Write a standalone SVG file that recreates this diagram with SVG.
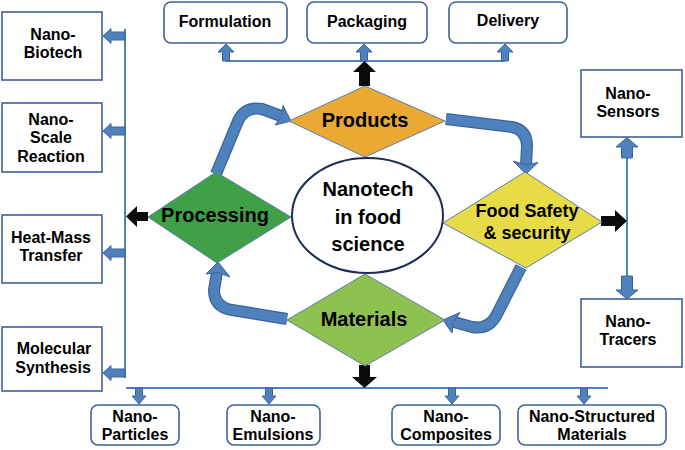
<svg xmlns="http://www.w3.org/2000/svg" width="685" height="450" viewBox="0 0 685 450">
<defs>
<style>
.box{fill:#fff;stroke:#3F619A;stroke-width:1.6}
.t{font-family:"Liberation Sans",Arial,sans-serif;font-weight:bold;font-size:16px;fill:#000;text-anchor:middle}
.big{font-size:20px}
.fs{font-size:18px}
.ln{fill:none;stroke:#4F81BD;stroke-width:2}
.sa{fill:#4F81BD;stroke:#3A659C;stroke-width:1}
.ba{fill:#0B0B0B}
.cs{fill:none;stroke:#3A659C;stroke-width:12;stroke-linejoin:round}
.ci{fill:none;stroke:#4F81BD;stroke-width:9.5;stroke-linejoin:round}
.dm{stroke:#5B7DB1;stroke-width:1}
</style>
</defs>
<rect width="685" height="450" fill="#fff"/>
<g id="connectors">
<!-- left bus -->
<line class="ln" x1="125" y1="29" x2="125" y2="378"/>
<polygon class="sa" points="125,32 111,32 111,28.5 103,36 111,43.5 111,40 125,40"/>
<polygon class="sa" points="125,127 111,127 111,123.5 103,131 111,138.5 111,135 125,135"/>
<polygon class="sa" points="125,249 111,249 111,245.5 103,253 111,260.5 111,257 125,257"/>
<polygon class="sa" points="125,369 111,369 111,365.5 103,373 111,380.5 111,377 125,377"/>
<polygon class="ba" points="148,212 137,212 137,206 126,216.5 137,227 137,221 148,221"/>
<!-- top bus -->
<line class="ln" x1="226" y1="61" x2="505" y2="61"/>
<polygon class="sa" points="222.5,61 222.5,52 218,52 226,44 234,52 229.5,52 229.5,61"/>
<polygon class="sa" points="360.5,61 360.5,52 356,52 364,44 372,52 367.5,52 367.5,61"/>
<polygon class="sa" points="501.5,61 501.5,52 497,52 505,44 513,52 508.5,52 508.5,61"/>
<polygon class="ba" points="359,86 359,72 353,72 364.5,61 376,72 370,72 370,86"/>
<!-- right bus -->
<line class="ln" x1="627" y1="147" x2="627" y2="290"/>
<polygon class="sa" points="621.5,158 621.5,147 616,147 627,137.5 638,147 632.5,147 632.5,158"/>
<polygon class="sa" points="621.5,276 621.5,290 616,290 627,299 638,290 632.5,290 632.5,276"/>
<polygon class="ba" points="601,216 615,216 615,210 627,221 615,232 615,226 601,226"/>
<!-- bottom bus -->
<line class="ln" x1="126" y1="388" x2="608" y2="388"/>
<polygon class="sa" points="135.5,388 135.5,396 132,396 139,404 146,396 142.5,396 142.5,388"/>
<polygon class="sa" points="265.5,388 265.5,396 262,396 269,404 276,396 272.5,396 272.5,388"/>
<polygon class="sa" points="448.5,388 448.5,396 445,396 452,404 459,396 455.5,396 455.5,388"/>
<polygon class="sa" points="580.5,388 580.5,396 577,396 584,404 591,396 587.5,396 587.5,388"/>
<polygon class="ba" points="359,365 359,377 352,377 364.5,388 377,377 370,377 370,365"/>
<!-- cycle arrows -->
<path class="cs" d="M216,174 L238,121 Q245,106 262,109 L281,116"/>
<path class="ci" d="M216,174 L238,121 Q245,106 262,109 L281,116"/>
<polygon class="sa" points="291,121 275,125 281.5,116.5 283,105.5"/>
<path class="cs" d="M446,119 L512,127 Q527,130 527,146 L526,165"/>
<path class="ci" d="M446,119 L512,127 Q527,130 527,146 L526,165"/>
<polygon class="sa" points="526,174 513,161 526,165 538,162.5"/>
<path class="cs" d="M521,267 L496,316 Q488,330 472,327 L454,322"/>
<path class="ci" d="M521,267 L496,316 Q488,330 472,327 L454,322"/>
<polygon class="sa" points="443,320 460,312.5 453.5,322.5 452,333"/>
<path class="cs" d="M287,319 L232,310 Q214,307 214,290 L217,272"/>
<path class="ci" d="M287,319 L232,310 Q214,307 214,290 L217,272"/>
<polygon class="sa" points="218,262 230,277 218,272.5 206,274"/>
</g>
<g id="products"><polygon class="dm" fill="#E9A932" points="365,86 445,121 365,157 289,121"/><text class="t big" x="365" y="127">Products</text></g>
<g id="processing"><polygon class="dm" fill="#40A047" points="216,172 291,217 217,263 148,217"/><text class="t big" x="215" y="222">Processing</text></g>
<g id="materials"><polygon class="dm" fill="#8FC150" points="365,274 445,320 365,366 287,320"/><text class="t big" x="364" y="326">Materials</text></g>
<g id="foodsafety"><polygon class="dm" fill="#E7DB47" points="525,172 602,222 526,268 443,223"/><text class="t fs" x="527" y="217">Food Safety</text><text class="t fs" x="527" y="239">&amp; security</text></g>
<g id="center"><ellipse cx="367.5" cy="215.5" rx="75.5" ry="57.5" fill="#fff" stroke="#1E2B5C" stroke-width="2"/><text class="t big" x="368" y="196">Nanotech</text><text class="t big" x="368" y="224">in food</text><text class="t big" x="368" y="251">science</text></g>
<g id="formulation"><rect class="box" x="164" y="2" width="123" height="41" rx="7"/><text class="t" x="225" y="27">Formulation</text></g>
<g id="packaging"><rect class="box" x="307" y="2" width="120" height="41" rx="7"/><text class="t" x="367" y="27">Packaging</text></g>
<g id="delivery"><rect class="box" x="449" y="2" width="118" height="41" rx="7"/><text class="t" x="508" y="26">Delivery</text></g>
<g id="nano-biotech"><rect class="box" x="2" y="12" width="100" height="68"/><text class="t" x="53" y="40">Nano-</text><text class="t" x="53" y="58">Biotech</text></g>
<g id="nano-scale"><rect class="box" x="2" y="103" width="100" height="69"/><text class="t" x="51" y="125">Nano-</text><text class="t" x="51" y="143">Scale</text><text class="t" x="51" y="162">Reaction</text></g>
<g id="heat-mass"><rect class="box" x="2" y="215" width="100" height="68"/><text class="t" x="51" y="243">Heat-Mass</text><text class="t" x="51" y="261">Transfer</text></g>
<g id="molecular"><rect class="box" x="2" y="327" width="100" height="64"/><text class="t" x="54" y="354">Molecular</text><text class="t" x="53" y="373">Synthesis</text></g>
<g id="nano-sensors"><rect class="box" x="581" y="70" width="101" height="67"/><text class="t" x="628" y="99">Nano-</text><text class="t" x="628" y="117">Sensors</text></g>
<g id="nano-tracers"><rect class="box" x="581" y="299" width="101" height="68"/><text class="t" x="628" y="327">Nano-</text><text class="t" x="628" y="345">Tracers</text></g>
<g id="nano-particles"><rect class="box" x="91" y="405" width="88" height="40" rx="7"/><text class="t" x="135" y="422">Nano-</text><text class="t" x="135" y="440">Particles</text></g>
<g id="nano-emulsions"><rect class="box" x="227" y="405" width="93" height="40" rx="7"/><text class="t" x="273" y="422">Nano-</text><text class="t" x="273" y="440">Emulsions</text></g>
<g id="nano-composites"><rect class="box" x="392" y="405" width="108" height="40" rx="7"/><text class="t" x="446" y="422">Nano-</text><text class="t" x="446" y="440">Composites</text></g>
<g id="nano-structured"><rect class="box" x="518" y="405" width="148" height="40" rx="7"/><text class="t" x="592" y="422">Nano-Structured</text><text class="t" x="592" y="440">Materials</text></g>
</svg>
